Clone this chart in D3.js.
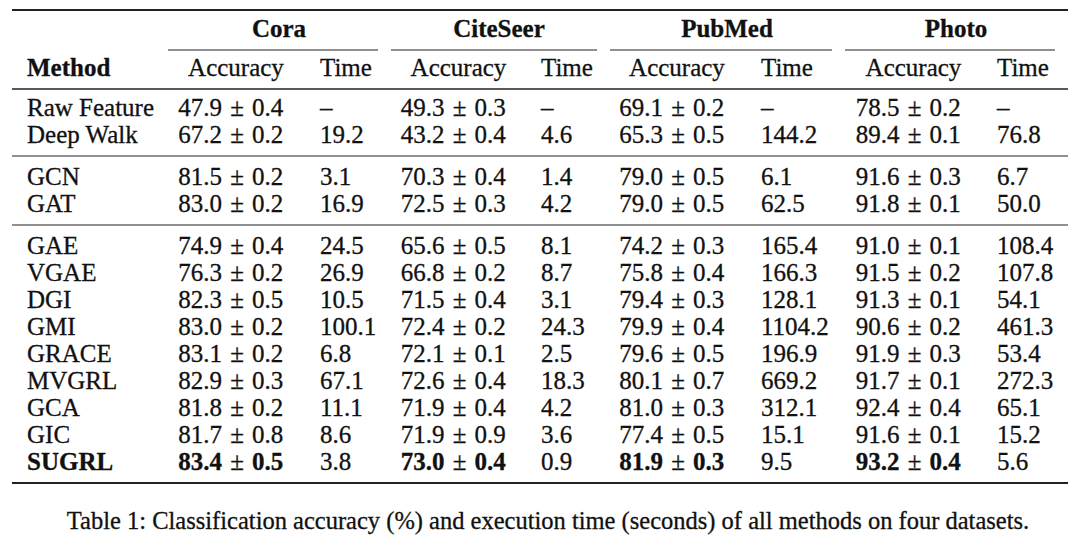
<!DOCTYPE html>
<html>
<head>
<meta charset="utf-8">
<script src="https://cdn.jsdelivr.net/npm/d3@7"></script>
<style>
  html, body { margin: 0; padding: 0; background: #fff; }
  svg { display: block; }
  text { font-family: "Liberation Serif", "Times New Roman", serif; fill: #111; stroke: #111; stroke-width: 0.3px; }
</style>
</head>
<body>
<svg id="chart" width="1080" height="540"></svg>
<script>
// ---------------- data ----------------
const methods = ["Raw Feature", "Deep Walk", "GCN", "GAT", "GAE", "VGAE", "DGI", "GMI", "GRACE", "MVGRL", "GCA", "GIC", "SUGRL"];
const methodGroup = [0, 0, 1, 1, 2, 2, 2, 2, 2, 2, 2, 2, 2];
const bestMethod = "SUGRL";
const datasets = ["Cora", "CiteSeer", "PubMed", "Photo"];
const subHeaders = ["Accuracy", "Time"];

const coraAcc = [47.9, 67.2, 81.5, 83.0, 74.9, 76.3, 82.3, 83.0, 83.1, 82.9, 81.8, 81.7, 83.4];
const coraStd = [0.4, 0.2, 0.2, 0.2, 0.4, 0.2, 0.5, 0.2, 0.2, 0.3, 0.2, 0.8, 0.5];
const coraTime = [null, 19.2, 3.1, 16.9, 24.5, 26.9, 10.5, 100.1, 6.8, 67.1, 11.1, 8.6, 3.8];

const citeseerAcc = [49.3, 43.2, 70.3, 72.5, 65.6, 66.8, 71.5, 72.4, 72.1, 72.6, 71.9, 71.9, 73.0];
const citeseerStd = [0.3, 0.4, 0.4, 0.3, 0.5, 0.2, 0.4, 0.2, 0.1, 0.4, 0.4, 0.9, 0.4];
const citeseerTime = [null, 4.6, 1.4, 4.2, 8.1, 8.7, 3.1, 24.3, 2.5, 18.3, 4.2, 3.6, 0.9];

const pubmedAcc = [69.1, 65.3, 79.0, 79.0, 74.2, 75.8, 79.4, 79.9, 79.6, 80.1, 81.0, 77.4, 81.9];
const pubmedStd = [0.2, 0.5, 0.5, 0.5, 0.3, 0.4, 0.3, 0.4, 0.5, 0.7, 0.3, 0.5, 0.3];
const pubmedTime = [null, 144.2, 6.1, 62.5, 165.4, 166.3, 128.1, 1104.2, 196.9, 669.2, 312.1, 15.1, 9.5];

const photoAcc = [78.5, 89.4, 91.6, 91.8, 91.0, 91.5, 91.3, 90.6, 91.9, 91.7, 92.4, 91.6, 93.2];
const photoStd = [0.2, 0.1, 0.3, 0.1, 0.1, 0.2, 0.1, 0.2, 0.3, 0.1, 0.4, 0.1, 0.4];
const photoTime = [null, 76.8, 6.7, 50.0, 108.4, 107.8, 54.1, 461.3, 53.4, 272.3, 65.1, 15.2, 5.6];

const caption = "Table 1: Classification accuracy (%) and execution time (seconds) of all methods on four datasets.";

// ---------------- table assembly ----------------
const tableData = [
  { name: "Cora", acc: coraAcc, std: coraStd, time: coraTime },
  { name: "CiteSeer", acc: citeseerAcc, std: citeseerStd, time: citeseerTime },
  { name: "PubMed", acc: pubmedAcc, std: pubmedStd, time: pubmedTime },
  { name: "Photo", acc: photoAcc, std: photoStd, time: photoTime }
];

// ---------------- layout ----------------
const FS = 25;
const fmt = d3.format(".1f");
const svg = d3.select("#chart");

// column layout per dataset (accuracy center, time left edge, header center, cmidrule extent)
const colLayout = d3.scaleOrdinal()
  .domain(datasets)
  .range([
    { acc: 236, time: 320, head: 279, r0: 168, r1: 378 },
    { acc: 458.5, time: 541, head: 499, r0: 391, r1: 597 },
    { acc: 677, time: 761, head: 727, r0: 610, r1: 832 },
    { acc: 913.5, time: 997, head: 956, r0: 845, r1: 1055 }
  ]);
const pmGap = 15;   // distance from ± centre to the numbers on each side
const methodX = 27;
const ruleX0 = 12, ruleX1 = 1068;

// vertical: row slots -> baseline via linear scale, plus group gaps
const rowY = d3.scaleLinear().domain([0, 1]).range([116, 143]);
const groupGap = d3.scaleLinear().domain([0, 1]).range([0, 15]);
const yOf = i => rowY(i) + groupGap(methodGroup[i]);

const head1Y = 37, head2Y = 76;
const ruleGap = 13;

// rules
function rule(y, x0, x1, w) {
  svg.append("line")
    .attr("x1", x0).attr("x2", x1).attr("y1", y).attr("y2", y)
    .attr("stroke", "#222").attr("stroke-width", w);
}
rule(10, ruleX0, ruleX1, 2.2);
datasets.forEach(d => { const c = colLayout(d); rule(head1Y + ruleGap, c.r0, c.r1, 1.2); });
rule(head2Y + ruleGap, ruleX0, ruleX1, 1.6);
const groups = d3.groups(methods.map((m, i) => i), i => methodGroup[i]);
groups.forEach(([g, idx], k) => {
  const last = idx[idx.length - 1];
  if (k < groups.length - 1) rule(yOf(last) + ruleGap, ruleX0, ruleX1, 1.2);
  else rule(yOf(last) + ruleGap, ruleX0, ruleX1, 2.2);
});

// headers
svg.append("text").attr("x", methodX).attr("y", head2Y)
  .attr("font-size", FS).attr("font-weight", "bold").text("Method");
datasets.forEach(d => {
  const c = colLayout(d);
  svg.append("text").attr("x", c.head).attr("y", head1Y)
    .attr("text-anchor", "middle").attr("font-size", FS).attr("font-weight", "bold").text(d);
  svg.append("text").attr("x", c.acc).attr("y", head2Y)
    .attr("text-anchor", "middle").attr("font-size", FS).text(subHeaders[0]);
  svg.append("text").attr("x", c.time).attr("y", head2Y)
    .attr("font-size", FS).text(subHeaders[1]);
});

// method names
svg.selectAll("text.method").data(methods).join("text")
  .attr("class", "method")
  .attr("x", methodX).attr("y", (d, i) => yOf(i))
  .attr("font-size", FS)
  .attr("font-weight", d => d === bestMethod ? "bold" : "normal")
  .text(d => d);

// cells
tableData.forEach(ds => {
  const c = colLayout(ds.name);
  const pmX = c.acc + 1;
  const rows = methods.map((m, i) => ({ m, i, acc: ds.acc[i], std: ds.std[i], time: ds.time[i] }));
  const bold = d => d.m === bestMethod ? "bold" : "normal";

  svg.selectAll(null).data(rows).join("text")
    .attr("x", pmX - pmGap).attr("y", d => yOf(d.i))
    .attr("text-anchor", "end").attr("font-size", FS).attr("font-weight", bold)
    .text(d => fmt(d.acc));
  svg.selectAll(null).data(rows).join("text")
    .attr("x", pmX).attr("y", d => yOf(d.i))
    .attr("text-anchor", "middle").attr("font-size", FS)
    .text("±");
  svg.selectAll(null).data(rows).join("text")
    .attr("x", pmX + pmGap).attr("y", d => yOf(d.i))
    .attr("font-size", FS).attr("font-weight", bold)
    .text(d => fmt(d.std));

  svg.selectAll(null).data(rows).join("text")
    .attr("x", c.time).attr("y", d => yOf(d.i))
    .attr("font-size", FS)
    .text(d => d.time == null ? "–" : fmt(d.time));
});

// caption
svg.append("text").attr("x", 548).attr("y", 529)
  .attr("text-anchor", "middle").attr("font-size", 24.5).text(caption);
</script>
</body>
</html>
